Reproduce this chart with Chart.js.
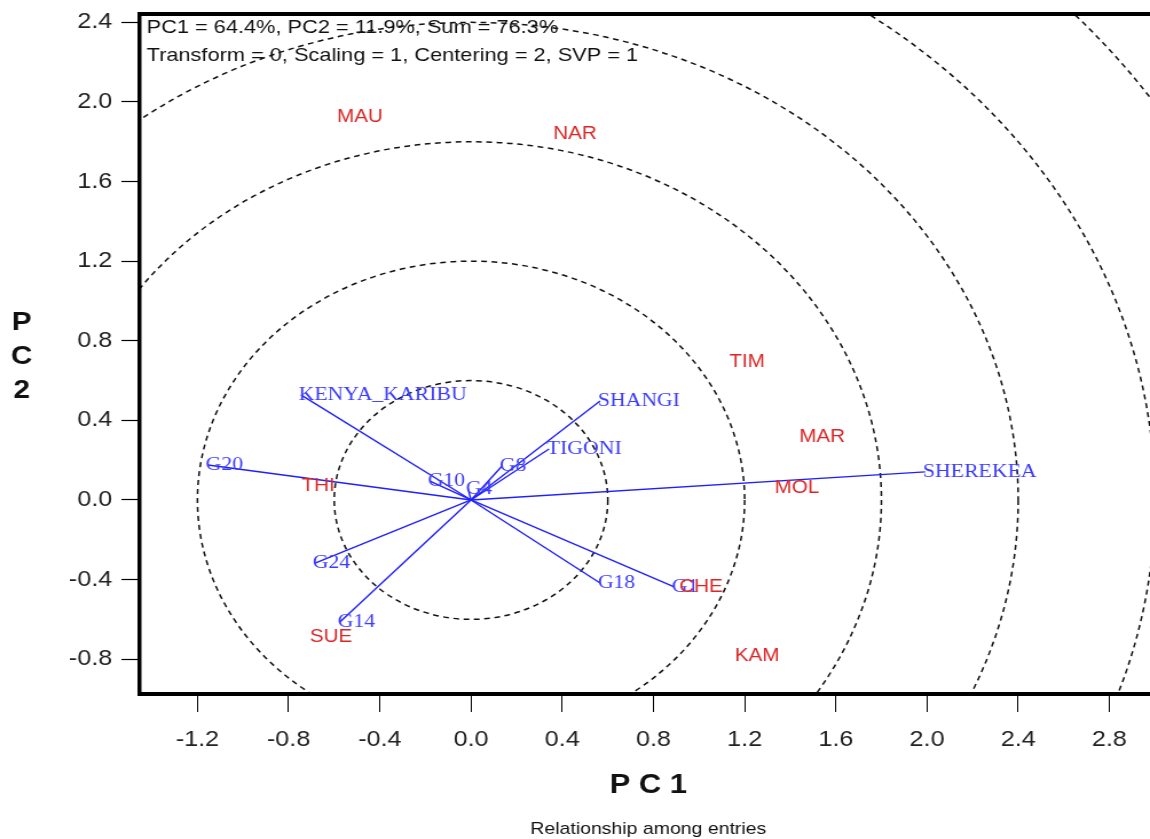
<!DOCTYPE html>
<html>
<head>
<meta charset="utf-8">
<script src="https://cdn.jsdelivr.net/npm/chart.js@4.4.1/dist/chart.umd.min.js"></script>
<style>
  html, body { margin: 0; padding: 0; background: #fff; overflow: hidden; }
  /* the source picture is stretched sideways, so the canvas is too */
  #biplot { display: block; transform: scaleX(1.14541); transform-origin: 0 0; }
</style>
</head>
<body>
<canvas id="biplot" width="1004" height="839"></canvas>
<script>
// genotypes (blue vectors)
const genotypes = ['KENYA_KARIBU', 'SHANGI', 'TIGONI', 'G8', 'G10', 'G4', 'G20', 'G24', 'G14', 'G18', 'G1', 'SHEREKEA'];
const genoPC1 = [-0.746, 0.566, 0.342, 0.136, -0.180, -0.013, -1.154, -0.684, -0.575, 0.566, 0.891, 1.992];
const genoPC2 = [0.528, 0.497, 0.256, 0.171, 0.095, 0.055, 0.176, -0.317, -0.613, -0.417, -0.437, 0.141];

// environments (red labels)
const environments = ['MAU', 'NAR', 'TIM', 'MAR', 'MOL', 'THI', 'CHE', 'SUE', 'KAM'];
const envPC1 = [-0.487, 0.456, 1.211, 1.540, 1.430, -0.671, 1.009, -0.614, 1.255];
const envPC2 = [1.925, 1.839, 0.693, 0.317, 0.060, 0.070, -0.437, -0.688, -0.784];

// concentric circles around the origin
const circleRadii = [0.6, 1.2, 1.8, 2.4, 3.0, 3.6];

const xTickValues = [-1.2, -0.8, -0.4, 0.0, 0.4, 0.8, 1.2, 1.6, 2.0, 2.4, 2.8];
const yTickValues = [-0.8, -0.4, 0.0, 0.4, 0.8, 1.2, 1.6, 2.0, 2.4];

const infoLines = ['PC1 = 64.4%, PC2 = 11.9%, Sum = 76.3%', 'Transform = 0, Scaling = 1, Centering = 2, SVP = 1'];

const SANS = '"Liberation Sans", Arial, sans-serif';
const SERIF = '"Liberation Serif", "Times New Roman", serif';

const datasets = genotypes.map((g, i) => ({
  label: g,
  data: [{x: 0, y: 0}, {x: genoPC1[i], y: genoPC2[i]}],
  showLine: true,
  borderColor: '#2020ff',
  borderWidth: 1.4,
  pointRadius: 0,
  fill: false
}));
datasets.push({
  label: 'environments',
  data: environments.map((e, i) => ({x: envPC1[i], y: envPC2[i]})),
  showLine: false,
  pointRadius: 0
});

const fmt = (v) => (Math.abs(v) < 1e-9 ? '0.0' : v.toFixed(1));

const decor = {
  id: 'decor',
  beforeDatasetsDraw(chart) {
    const {ctx, chartArea: a, scales: {x, y}} = chart;
    const cx = x.getPixelForValue(0);
    const cy = y.getPixelForValue(0);
    const ux = x.getPixelForValue(1) - cx;
    const uy = cy - y.getPixelForValue(1);
    ctx.save();
    ctx.beginPath();
    ctx.rect(a.left, a.top, a.right - a.left, a.bottom - a.top);
    ctx.clip();
    ctx.strokeStyle = '#111';
    ctx.lineWidth = 1.5;
    ctx.setLineDash([5, 4]);
    circleRadii.forEach((r) => {
      ctx.beginPath();
      ctx.ellipse(cx, cy, r * ux, r * uy, 0, 0, Math.PI * 2);
      ctx.stroke();
    });
    ctx.restore();
  },
  afterDatasetsDraw(chart) {
    const {ctx, scales: {x, y}} = chart;
    ctx.save();
    // genotype labels, starting at the vector tip
    ctx.font = '19px ' + SERIF;
    ctx.fillStyle = '#3c3cff';
    ctx.textAlign = 'left';
    ctx.textBaseline = 'middle';
    genotypes.forEach((g, i) => {
      ctx.fillText(g, x.getPixelForValue(genoPC1[i]) - 2, y.getPixelForValue(genoPC2[i]));
    });
    // environment labels
    ctx.font = '18px ' + SANS;
    ctx.fillStyle = '#dc2626';
    ctx.textAlign = 'center';
    environments.forEach((e, i) => {
      ctx.fillText(e, x.getPixelForValue(envPC1[i]), y.getPixelForValue(envPC2[i]));
    });
    // info lines top-left
    ctx.font = '19px ' + SANS;
    ctx.fillStyle = '#111';
    ctx.textAlign = 'left';
    ctx.fillText(infoLines[0], 128, 28);
    ctx.fillText(infoLines[1], 128, 56);
    ctx.restore();
  },
  afterDraw(chart) {
    const {ctx, chartArea: a} = chart;
    ctx.save();
    // frame: left, top, bottom (right side runs off the picture)
    ctx.fillStyle = '#000';
    ctx.fillRect(a.left - 2, a.top - 2, a.right - a.left + 2, 4);
    ctx.fillRect(a.left - 2, a.top - 2, 3.5, a.bottom - a.top + 4);
    ctx.fillRect(a.left - 2, a.bottom - 2, a.right - a.left + 2, 4);
    // axis titles
    ctx.fillStyle = '#111';
    ctx.textAlign = 'center';
    ctx.textBaseline = 'middle';
    ctx.font = 'bold 27px ' + SANS;
    ctx.fillText('P C 1', 566, 786);
    ctx.font = 'bold 26px ' + SANS;
    ['P', 'C', '2'].forEach((ch, i) => ctx.fillText(ch, 19, 323 + i * 34));
    ctx.font = '17px ' + SANS;
    ctx.fillText('Relationship among entries', 566, 829);
    ctx.restore();
  }
};

new Chart(document.getElementById('biplot'), {
  type: 'scatter',
  data: {datasets},
  options: {
    responsive: false,
    animation: false,
    devicePixelRatio: 1,
    layout: {padding: {top: 14, right: 0, left: 0, bottom: 0}},
    plugins: {legend: {display: false}, tooltip: {enabled: false}},
    scales: {
      x: {
        type: 'linear',
        min: -1.453,
        max: 2.978,
        afterFit: (s) => { s.height = 145; s.paddingLeft = 0; s.paddingRight = 0; },
        afterBuildTicks: (s) => { s.ticks = xTickValues.map((v) => ({value: v})); },
        border: {display: false},
        grid: {drawOnChartArea: false, drawTicks: true, tickLength: 18, tickColor: '#000', tickWidth: 1},
        ticks: {
          color: '#222',
          padding: 15,
          maxRotation: 0,
          autoSkip: false,
          font: {family: SANS, size: 22},
          callback: (v) => fmt(v)
        }
      },
      y: {
        type: 'linear',
        min: -0.975,
        max: 2.442,
        afterFit: (s) => { s.width = 122; s.paddingTop = 0; s.paddingBottom = 0; },
        afterBuildTicks: (s) => { s.ticks = yTickValues.map((v) => ({value: v})); },
        border: {display: false},
        grid: {drawOnChartArea: false, drawTicks: true, tickLength: 16, tickColor: '#000', tickWidth: 1.2},
        ticks: {
          color: '#222',
          padding: 8,
          autoSkip: false,
          font: {family: SANS, size: 22},
          callback: (v) => fmt(v)
        }
      }
    }
  },
  plugins: [decor]
});
</script>
</body>
</html>
